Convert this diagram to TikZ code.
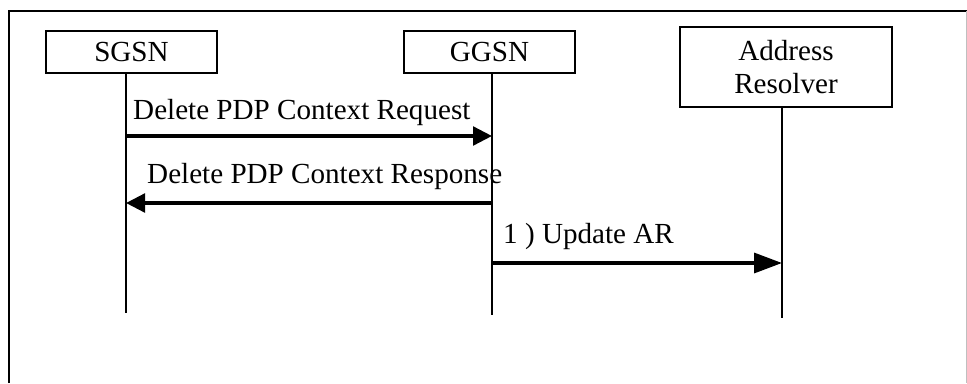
\documentclass[tikz,border=0pt]{standalone}
\usepackage{fontspec}
\setmainfont{Liberation Serif}
\usetikzlibrary{arrows.meta}
\tikzset{
    entity/.style={draw, line width=1.8pt, minimum height=12.6mm, inner sep=0pt, align=center},
    lifeline/.style={line width=2.5pt},
    msg/.style={line width=2.9pt, -{Triangle[length=5.7mm, width=5.6mm]}},
    msglong/.style={line width=2.9pt, -{Triangle[length=8.4mm, width=6mm]}},
    msglabel/.style={anchor=base west, inner sep=0pt}
}
\begin{document}
\begin{tikzpicture}[x=0.3mm, y=-0.3mm, font=\fontsize{24.85}{28}\selectfont]
        \useasboundingbox (0,0) rectangle (967,383);
        % frame
        \draw[line width=1.8pt] (9,383) -- (9,11) -- (967,11);
        \draw[line width=0.6pt, black!25] (966.5,11) -- (966.5,383);
        % entities
        \node[entity, minimum width=51.3mm] (sgsn) at (131.5,52) {SGSN};
        \node[entity, minimum width=51.3mm] (ggsn) at (489.5,52) {GGSN};
        \node[entity, minimum width=63.6mm, minimum height=24mm] (ar) at (786,67) {Address\\Resolver};
        % lifelines
        \coordinate (sgsnTop) at (126,73);   \coordinate (sgsnEnd) at (126,313);
        \coordinate (ggsnTop) at (492,73);   \coordinate (ggsnEnd) at (492,315);
        \coordinate (arTop)   at (782,107);  \coordinate (arEnd)   at (782,318);
        \draw[lifeline] (sgsnTop) -- (sgsnEnd);
        \draw[lifeline] (ggsnTop) -- (ggsnEnd);
        \draw[lifeline] (arTop)   -- (arEnd);
        % messages
        \coordinate (reqFrom) at (126,136);  \coordinate (reqTo) at (492,136);
        \coordinate (rspFrom) at (492,203);  \coordinate (rspTo) at (126,203);
        \coordinate (updFrom) at (492,263);  \coordinate (updTo) at (782,263);
        \draw[msg]     (reqFrom) -- (reqTo);
        \draw[msg]     (rspFrom) -- (rspTo);
        \draw[msglong] (updFrom) -- (updTo);
        % message labels
        \node[msglabel] (reqLabel) at (133,119) {Delete PDP Context Request};
        \node[msglabel] (rspLabel) at (147,183) {Delete PDP Context Response};
        \node[msglabel] (updLabel) at (503,243) {1 ) Update AR};
    \end{tikzpicture}
\end{document}
